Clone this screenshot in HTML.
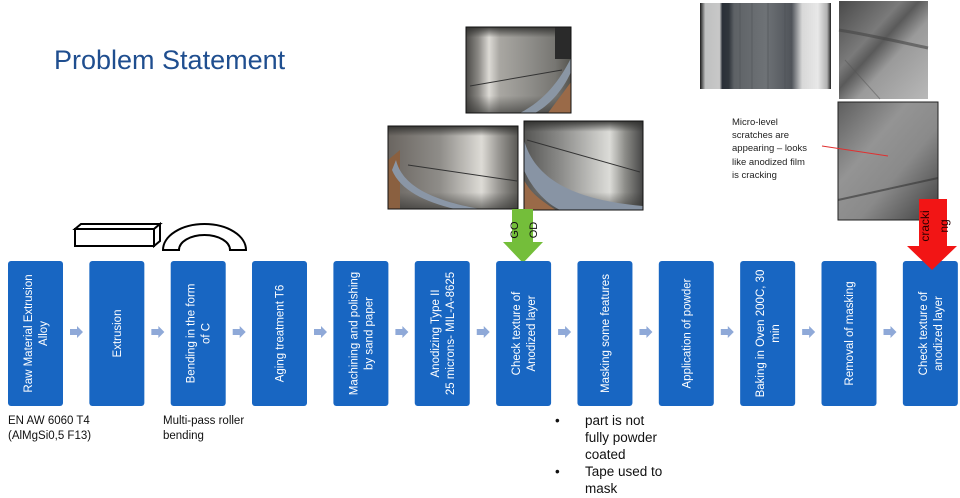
<!DOCTYPE html>
<html>
<head>
<meta charset="utf-8">
<style>
  html, body { margin:0; padding:0; background:#ffffff; }
  body { width:960px; height:498px; overflow:hidden; position:relative; font-family:"Liberation Sans", sans-serif; }
  svg { position:absolute; left:0; top:0; }
</style>
</head>
<body>
<svg width="960" height="498" viewBox="0 0 960 498" xmlns="http://www.w3.org/2000/svg" font-family="Liberation Sans, sans-serif">
  <defs>
    <linearGradient id="gA" x1="0" y1="0" x2="1" y2="0">
      <stop offset="0" stop-color="#4a4946"/>
      <stop offset="0.12" stop-color="#8c8a86"/>
      <stop offset="0.22" stop-color="#dcdad5"/>
      <stop offset="0.32" stop-color="#a9a7a2"/>
      <stop offset="0.6" stop-color="#8f8e8a"/>
      <stop offset="0.85" stop-color="#777672"/>
      <stop offset="1" stop-color="#55544f"/>
    </linearGradient>
    <linearGradient id="gB" x1="0" y1="0" x2="1" y2="0">
      <stop offset="0" stop-color="#6a6560"/>
      <stop offset="0.4" stop-color="#8f8d89"/>
      <stop offset="0.72" stop-color="#dddbd6"/>
      <stop offset="0.85" stop-color="#9a9894"/>
      <stop offset="1" stop-color="#5a5955"/>
    </linearGradient>
    <linearGradient id="gC" x1="0" y1="0" x2="1" y2="0">
      <stop offset="0" stop-color="#555553"/>
      <stop offset="0.3" stop-color="#8a8a88"/>
      <stop offset="0.72" stop-color="#dcdcd8"/>
      <stop offset="0.85" stop-color="#8c8c88"/>
      <stop offset="1" stop-color="#454545"/>
    </linearGradient>
    <linearGradient id="vdark" x1="0" y1="0" x2="0" y2="1">
      <stop offset="0" stop-color="#2e2e2c" stop-opacity="0.9"/>
      <stop offset="0.12" stop-color="#2e2e2c" stop-opacity="0"/>
      <stop offset="0.8" stop-color="#2e2e2c" stop-opacity="0"/>
      <stop offset="1" stop-color="#2e2e2c" stop-opacity="0.6"/>
    </linearGradient>
    <linearGradient id="gR1" x1="0" y1="0" x2="1" y2="0">
      <stop offset="0" stop-color="#1a1a1a"/>
      <stop offset="0.04" stop-color="#bfc0c0"/>
      <stop offset="0.15" stop-color="#c8c8c8"/>
      <stop offset="0.17" stop-color="#2a3038"/>
      <stop offset="0.22" stop-color="#30363c"/>
      <stop offset="0.26" stop-color="#5e6266"/>
      <stop offset="0.5" stop-color="#6e7276"/>
      <stop offset="0.7" stop-color="#50545a"/>
      <stop offset="0.78" stop-color="#d8d8d8"/>
      <stop offset="0.9" stop-color="#e8e8e8"/>
      <stop offset="0.97" stop-color="#b0b0b0"/>
      <stop offset="1" stop-color="#202020"/>
    </linearGradient>
    <linearGradient id="gR2" x1="0" y1="0" x2="1" y2="1">
      <stop offset="0" stop-color="#4a4a4a"/>
      <stop offset="0.35" stop-color="#7a7a7a"/>
      <stop offset="0.45" stop-color="#5a5a5a"/>
      <stop offset="0.6" stop-color="#9a9a9a"/>
      <stop offset="1" stop-color="#b8b8b8"/>
    </linearGradient>
    <linearGradient id="gR3" x1="0" y1="0" x2="1" y2="1">
      <stop offset="0" stop-color="#5e5e5e"/>
      <stop offset="0.35" stop-color="#949494"/>
      <stop offset="0.6" stop-color="#8a8a8a"/>
      <stop offset="1" stop-color="#3e3e3e"/>
    </linearGradient>
    <clipPath id="cA"><rect x="466" y="27" width="105" height="86"/></clipPath>
    <clipPath id="cB"><rect x="388" y="126" width="130" height="83"/></clipPath>
    <clipPath id="cC"><rect x="524" y="121" width="119" height="89"/></clipPath>
  </defs>

  <!-- Title -->
  <text x="54" y="69" font-size="27" fill="#1f4e8f">Problem Statement</text>

  <!-- Photo A -->
  <g clip-path="url(#cA)">
    <rect x="466" y="27" width="105" height="86" fill="url(#gA)"/>
    <rect x="466" y="27" width="105" height="86" fill="url(#vdark)"/>
    <rect x="555" y="27" width="16" height="32" fill="#2a2a2a"/>
    <path d="M520,113 C545,100 560,80 571,58 L571,72 C562,92 548,106 535,113 Z" fill="#8a96a4"/>
    <path d="M548,113 L571,113 L571,82 Z" fill="#9a6a48"/>
    <path d="M470,86 L562,70" stroke="#333" stroke-width="1" fill="none"/>
  </g>
  <rect x="466" y="27" width="105" height="86" fill="none" stroke="#111" stroke-width="1"/>

  <!-- Photo B -->
  <g clip-path="url(#cB)">
    <rect x="388" y="126" width="130" height="83" fill="url(#gB)"/>
    <rect x="388" y="126" width="130" height="83" fill="url(#vdark)"/>
    <path d="M388,160 L400,150 L400,209 L388,209 Z" fill="#8a6040"/>
    <path d="M396,160 C402,185 430,200 480,209 L455,209 C425,202 400,190 392,170 Z" fill="#8a96a6"/>
    <path d="M408,165 L517,181" stroke="#333" stroke-width="1" fill="none"/>
  </g>
  <rect x="388" y="126" width="130" height="83" fill="none" stroke="#111" stroke-width="1"/>

  <!-- Photo C -->
  <g clip-path="url(#cC)">
    <rect x="524" y="121" width="119" height="89" fill="url(#gC)"/>
    <rect x="524" y="121" width="119" height="89" fill="url(#vdark)"/>
    <path d="M524,140 C535,180 575,200 643,206 L643,210 L560,210 C540,200 528,180 524,170 Z" fill="#8894a4"/>
    <path d="M524,180 L524,210 L556,210 C540,200 530,192 524,180 Z" fill="#9a6a48"/>
    <path d="M527,140 L640,172" stroke="#333" stroke-width="1" fill="none"/>
  </g>
  <rect x="524" y="121" width="119" height="89" fill="none" stroke="#111" stroke-width="1"/>

  <!-- Right photos -->
  <rect x="700" y="3" width="131" height="86" fill="url(#gR1)"/>
  <g stroke="#4a4e52" stroke-width="1" opacity="0.5">
    <line x1="740" y1="3" x2="740" y2="89"/>
    <line x1="752" y1="3" x2="752" y2="89"/>
    <line x1="768" y1="3" x2="768" y2="89"/>
    <line x1="785" y1="3" x2="785" y2="89"/>
  </g>
  <rect x="839" y="1" width="89" height="98" fill="url(#gR2)"/>
  <path d="M839,30 C870,35 900,42 928,48" stroke="#444" stroke-width="3" fill="none" opacity="0.6"/>
  <path d="M845,60 L880,99" stroke="#555" stroke-width="1" fill="none" opacity="0.5"/>
  <rect x="838" y="102" width="100" height="118" fill="url(#gR3)"/>
  <path d="M838,200 L938,178" stroke="#333" stroke-width="2" fill="none" opacity="0.6"/>
  <rect x="838" y="102" width="100" height="118" fill="none" stroke="#222" stroke-width="1"/>

  <!-- Micro text -->
  <g font-size="9.5" fill="#222">
    <text x="732" y="125">Micro-level</text>
    <text x="732" y="138">scratches are</text>
    <text x="732" y="151">appearing – looks</text>
    <text x="732" y="165">like anodized  film</text>
    <text x="732" y="178">is cracking</text>
  </g>
  <line x1="822" y1="146" x2="888" y2="156" stroke="#e03030" stroke-width="1"/>

  <!-- Bar shape -->
  <g fill="#fff" stroke="#000" stroke-width="2" stroke-linejoin="miter">
    <polygon points="75,229 81,224 160,224 154,229"/>
    <polygon points="154,229 160,224 160,241 154,246"/>
    <rect x="75" y="229" width="79" height="17"/>
  </g>
  <!-- Arch shape -->
  <path d="M163,250 A41.5,26 0 0 1 246,250 L230,250 A25.5,15 0 0 0 179,250 Z" fill="#fff" stroke="#000" stroke-width="2"/>

  <!-- Green arrow -->
  <polygon points="512,209 533,209 533,242 543,242 523,263 503,242 512,242" fill="#74be3a"/>
  <text transform="translate(518,230) rotate(-90)" font-size="11" text-anchor="middle" fill="#111">GO</text>
  <text transform="translate(537,230) rotate(-90)" font-size="11" text-anchor="middle" fill="#111">OD</text>

  <!-- Process boxes -->
  <g fill="#1866c2">
    <rect x="8" y="261" width="55" height="145" rx="3"/>
    <rect x="89.35" y="261" width="55" height="145" rx="3"/>
    <rect x="170.7" y="261" width="55" height="145" rx="3"/>
    <rect x="252" y="261" width="55" height="145" rx="3"/>
    <rect x="333.4" y="261" width="55" height="145" rx="3"/>
    <rect x="414.75" y="261" width="55" height="145" rx="3"/>
    <rect x="496.1" y="261" width="55" height="145" rx="3"/>
    <rect x="577.45" y="261" width="55" height="145" rx="3"/>
    <rect x="658.8" y="261" width="55" height="145" rx="3"/>
    <rect x="740.15" y="261" width="55" height="145" rx="3"/>
    <rect x="821.5" y="261" width="55" height="145" rx="3"/>
    <rect x="902.85" y="261" width="55" height="145" rx="3"/>
  </g>

  <!-- Red arrow (on top of last box) -->
  <polygon points="919,199 947,199 947,246 957,246 932,270 907,246 919,246" fill="#f21515"/>
  <text transform="translate(929,226) rotate(-90)" font-size="12" text-anchor="middle" fill="#2a0000">cracki</text>
  <text transform="translate(948,226) rotate(-90)" font-size="12" text-anchor="middle" fill="#2a0000">ng</text>

  <!-- Box labels -->
  <g font-size="11.5" fill="#fff" text-anchor="middle">
    <text transform="translate(35.5,333.5) rotate(-90)"><tspan x="0" y="-3.5">Raw Material Extrusion</tspan><tspan x="0" y="11.5">Alloy</tspan></text>
    <text transform="translate(116.85,333.5) rotate(-90)"><tspan x="0" y="4">Extrusion</tspan></text>
    <text transform="translate(198.2,333.5) rotate(-90)"><tspan x="0" y="-3.5">Bending in the form</tspan><tspan x="0" y="11.5">of C</tspan></text>
    <text transform="translate(279.5,333.5) rotate(-90)"><tspan x="0" y="4">Aging treatment T6</tspan></text>
    <text transform="translate(360.9,333.5) rotate(-90)"><tspan x="0" y="-3.5">Machining and polishing</tspan><tspan x="0" y="11.5">by sand paper</tspan></text>
    <text transform="translate(442.25,333.5) rotate(-90)"><tspan x="0" y="-3.5">Anodizing Type II</tspan><tspan x="0" y="11.5">25 microns- MIL-A-8625</tspan></text>
    <text transform="translate(523.6,333.5) rotate(-90)"><tspan x="0" y="-3.5">Check texture of</tspan><tspan x="0" y="11.5">Anodized layer</tspan></text>
    <text transform="translate(604.95,333.5) rotate(-90)"><tspan x="0" y="4">Masking some features</tspan></text>
    <text transform="translate(686.3,333.5) rotate(-90)"><tspan x="0" y="4">Application of powder</tspan></text>
    <text transform="translate(767.65,333.5) rotate(-90)"><tspan x="0" y="-3.5">Baking in Oven 200C, 30</tspan><tspan x="0" y="11.5">min</tspan></text>
    <text transform="translate(849,333.5) rotate(-90)"><tspan x="0" y="4">Removal of masking</tspan></text>
    <text transform="translate(930.35,333.5) rotate(-90)"><tspan x="0" y="-3.5">Check texture of</tspan><tspan x="0" y="11.5">anodized layer</tspan></text>
  </g>

  <!-- Small connector arrows -->
  <g fill="#8fa9d8">
    <polygon points="70,329 77,329 77,326 83,332 77,338 77,335 70,335"/>
    <polygon points="151.35,329 158.35,329 158.35,326 164.35,332 158.35,338 158.35,335 151.35,335"/>
    <polygon points="232.7,329 239.7,329 239.7,326 245.7,332 239.7,338 239.7,335 232.7,335"/>
    <polygon points="314,329 321,329 321,326 327,332 321,338 321,335 314,335"/>
    <polygon points="395.4,329 402.4,329 402.4,326 408.4,332 402.4,338 402.4,335 395.4,335"/>
    <polygon points="476.75,329 483.75,329 483.75,326 489.75,332 483.75,338 483.75,335 476.75,335"/>
    <polygon points="558.1,329 565.1,329 565.1,326 571.1,332 565.1,338 565.1,335 558.1,335"/>
    <polygon points="639.45,329 646.45,329 646.45,326 652.45,332 646.45,338 646.45,335 639.45,335"/>
    <polygon points="720.8,329 727.8,329 727.8,326 733.8,332 727.8,338 727.8,335 720.8,335"/>
    <polygon points="802.15,329 809.15,329 809.15,326 815.15,332 809.15,338 809.15,335 802.15,335"/>
    <polygon points="883.5,329 890.5,329 890.5,326 896.5,332 890.5,338 890.5,335 883.5,335"/>
  </g>

  <!-- Bottom notes -->
  <g font-size="11.5" fill="#111">
    <text x="8" y="424">EN AW 6060 T4</text>
    <text x="8" y="439">(AlMgSi0,5 F13)</text>
    <text x="163" y="424">Multi-pass roller</text>
    <text x="163" y="439">bending</text>
  </g>
  <g font-size="13.5" fill="#111">
    <text x="555" y="425">•</text>
    <text x="585" y="425">part is not</text>
    <text x="585" y="442">fully powder</text>
    <text x="585" y="459">coated</text>
    <text x="555" y="476">•</text>
    <text x="585" y="476">Tape used to</text>
    <text x="585" y="493">mask</text>
  </g>
</svg>
</body>
</html>
